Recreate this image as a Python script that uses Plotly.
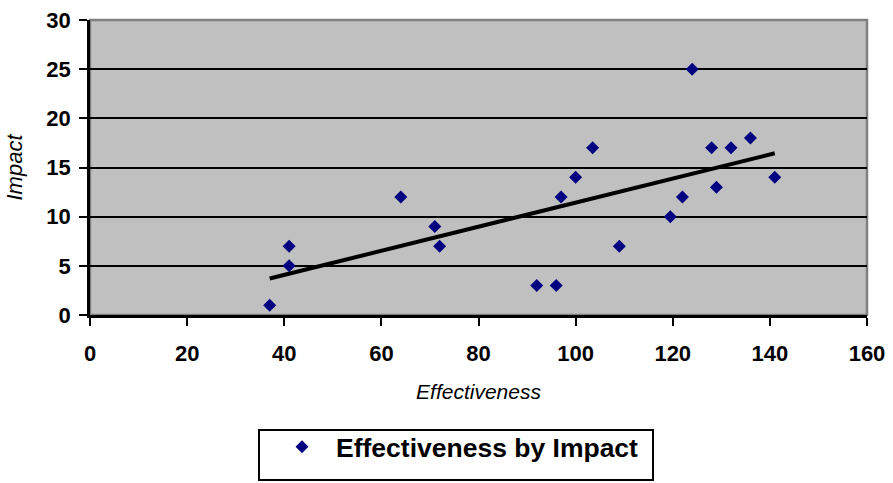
import numpy as np
import plotly.graph_objects as go

effectiveness = [37, 41, 41, 64, 71, 72, 92, 96, 97, 100, 103.5, 109, 119.5, 122, 124, 128, 129, 132, 136, 141]
impact = [1, 7, 5, 12, 9, 7, 3, 3, 12, 14, 17, 7, 10, 12, 25, 17, 13, 17, 18, 14]
series_name = "Effectiveness by Impact"
x_ticks = [0, 20, 40, 60, 80, 100, 120, 140, 160]
y_ticks = [0, 5, 10, 15, 20, 25, 30]

slope, intercept = np.polyfit(effectiveness, impact, 1)
trend_x = [min(effectiveness), max(effectiveness)]
trend_y = [slope * v + intercept for v in trend_x]

fig = go.Figure()
fig.add_trace(go.Scatter(
    x=trend_x, y=trend_y, mode="lines",
    line=dict(color="black", width=4), showlegend=False, hoverinfo="skip"))
fig.add_trace(go.Scatter(
    x=effectiveness, y=impact, mode="markers", name=series_name,
    marker=dict(symbol="diamond", size=10, color="#000080", line=dict(width=0))))

W, H = 893, 483
L, R, T, B = 90, 26, 20, 168
pw, ph = W - L - R, H - T - B

def px_x(p):
    return (p - L) / pw

def px_y(p):
    return (H - B - p) / ph

fig.update_layout(
    width=W, height=H,
    margin=dict(l=L, r=R, t=T, b=B, pad=0, autoexpand=False),
    paper_bgcolor="white", plot_bgcolor="#C0C0C0",
    font=dict(family="Liberation Sans, Arial, sans-serif", color="black"),
    showlegend=True,
    legend=dict(
        x=px_x(268), y=px_y(423), xanchor="left", yanchor="top",
        bgcolor="rgba(0,0,0,0)", borderwidth=0, itemwidth=58,
        font=dict(size=26.5, family="Liberation Sans, Arial, sans-serif", weight="bold")),
    shapes=[
        dict(type="rect", xref="paper", yref="paper", x0=0, x1=1, y0=0, y1=1,
             line=dict(color="#808080", width=2.5), layer="below"),
        dict(type="rect", xref="paper", yref="paper",
             x0=px_x(259), x1=px_x(653), y0=px_y(430), y1=px_y(480),
             line=dict(color="black", width=2), fillcolor="rgba(0,0,0,0)"),
    ],
)

fig.update_xaxes(
    range=[0, 160], tickvals=x_ticks, ticktext=[str(v) for v in x_ticks],
    showgrid=False, zeroline=False, showline=True, linecolor="black", linewidth=2.5,
    ticks="outside", ticklen=8, tickwidth=2, tickcolor="black", automargin=False,
    tickfont=dict(size=22, weight="bold"), ticklabelstandoff=9,
    title=dict(text="<i>Effectiveness</i>", font=dict(size=21), standoff=20),
)
fig.update_yaxes(
    range=[0, 30], tickvals=y_ticks, ticktext=[str(v) for v in y_ticks],
    showgrid=True, gridcolor="black", gridwidth=2,
    zeroline=False, showline=True, linecolor="black", linewidth=2.5,
    ticks="outside", ticklen=8, tickwidth=2, tickcolor="black", automargin=False,
    tickfont=dict(size=22, weight="bold"), ticklabelstandoff=4,
    title=dict(text="<i>Impact</i>", font=dict(size=22), standoff=18),
)

fig.write_html("out.html")
